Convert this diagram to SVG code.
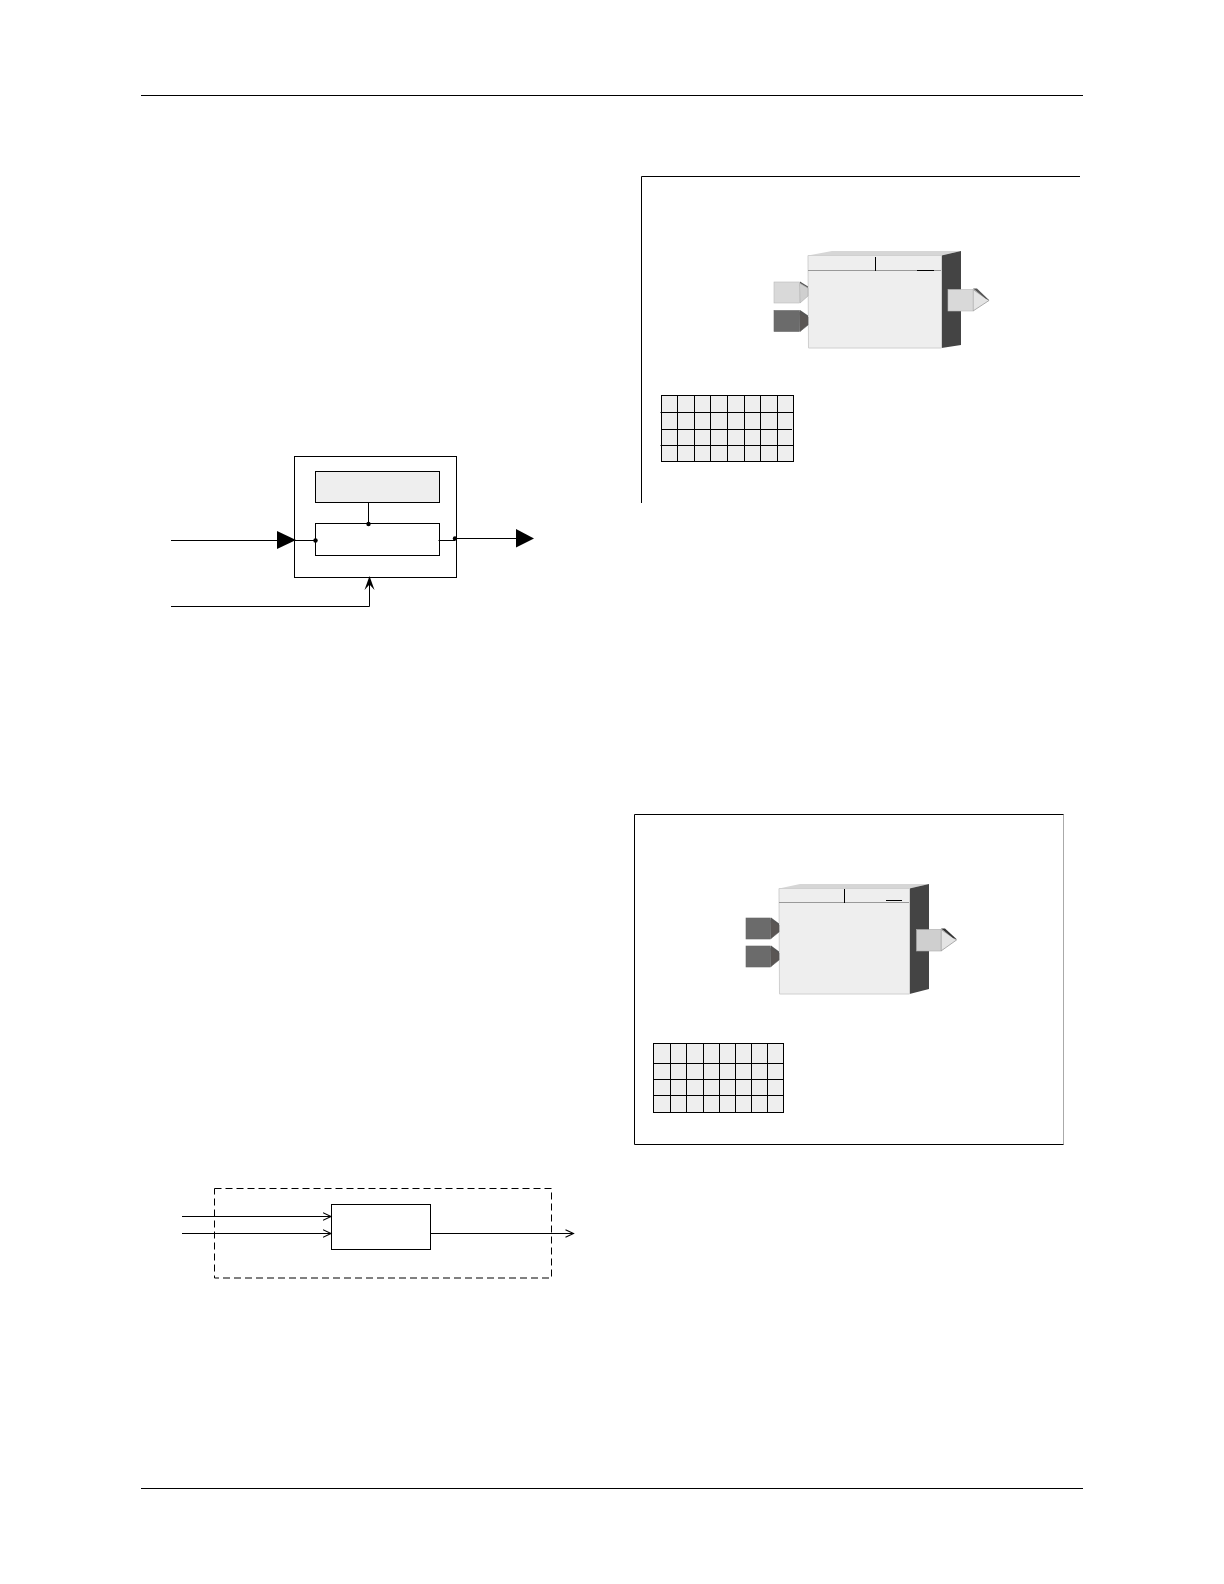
<svg xmlns="http://www.w3.org/2000/svg" width="1224" height="1584" viewBox="0 0 1224 1584">
<style>
.l{fill:none;stroke:#000;stroke-width:1}
.b{fill:#fff;stroke:#000;stroke-width:1}
.g{fill:#eee;stroke:#000;stroke-width:1}
.front{fill:#eee;stroke:#d0d0d0;stroke-width:1}
.top{fill:#d6d6d6}
.side{fill:#444}
.lt{fill:#d9d9d9;stroke:#bbb;stroke-width:.6}
.lt2{fill:#cfcfcf;stroke:#aaa;stroke-width:.6}
.tip{fill:#e4e4e4;stroke:#999;stroke-width:.8}
.dk{fill:#6b6b6b;stroke:#666;stroke-width:.6}
.dk2{fill:#5a5654;stroke:#555;stroke-width:.6}
.e{fill:#555}
.f{fill:#000}
</style>
<defs>
<marker id="open" markerWidth="10" markerHeight="10" refX="9" refY="5" orient="auto" markerUnits="userSpaceOnUse"><path d="M0.5 1.2L8.5 5L0.5 8.8" fill="none" stroke="#000" stroke-width="1.1"/></marker>
</defs>
<rect width="1224" height="1584" fill="#fff"/>
<g id="page-rules">
<path class="l" d="M141 95.5H1083M141 1488.5H1083"/>
</g>

<g id="frame-top"><path class="l" d="M1080 176.5H641.5V503"/></g>
<g id="block-top">
<polygon class="top" points="808,255.5 832,251 961,251 941,255.5"/>
<polygon class="side" points="941.5,255.5 961,251 961,345 941.5,348"/>
<polygon class="front" points="808,255.5 941.5,255.5 941.5,348 808.5,348"/>
<path d="M808 270.5H941" fill="none" stroke="#999"/>
<path class="l" d="M875.5 257V271M917 270.5H934"/>
<g id="block-top-in1">
<polygon class="e" points="800,281.5 808,286.5 808,292 799.5,286"/>
<polygon class="lt2" points="799.5,283 808,288 808,296 800,303"/>
<rect class="lt" x="774" y="282" width="25.5" height="21"/>
</g>
<g id="block-top-in2">
<polygon class="e" points="800,310 808,315.5 808,320 799.5,315"/>
<polygon class="dk2" points="799.5,312 808,317 808,325 800,331.5"/>
<rect class="dk" x="774" y="310.5" width="25.5" height="21"/>
</g>
<g id="block-top-out">
<polygon class="tip" points="973,289.5 989,300.5 973,311"/>
<polygon class="e" points="973,288.5 977,288.5 989.5,300.5 985.5,298.5"/>
<rect class="lt" x="948" y="289.5" width="25" height="21.5"/>
</g>
</g>
<g id="table-top">
<rect class="g" x="661.5" y="395.5" width="132" height="66"/>
<path class="l" d="M677.5 395.5V461.5M694.5 395.5V461.5M710.5 395.5V461.5M727.5 395.5V461.5M744.5 395.5V461.5M760.5 395.5V461.5M777.5 395.5V461.5M660.5 412.5H793.5M661.5 429.5H792M660.5 445.5H793.5"/>
</g>

<g id="frame-bottom">
<path d="M1063.5 814.5V1144.5" fill="none" stroke="#aaa"/>
<path class="l" d="M1063.5 814.5H634.5V1144.5H1063.5"/>
</g>
<g id="block-bottom">
<polygon class="top" points="779,888.5 800,884 929,884 909.5,888.5"/>
<polygon class="side" points="909.5,888.5 929,884 929,989 909.5,994"/>
<polygon class="front" points="779,888.5 909.5,888.5 909.5,994 779.5,994"/>
<path d="M779 902.5H909" fill="none" stroke="#999"/>
<path class="l" d="M844.5 889V903M886 900.5H902"/>
<g id="block-bottom-in1">
<polygon class="e" points="771,917.5 779,923.5 779,928 770.5,923"/>
<polygon class="dk2" points="770.5,920 779,925 779,932 771,938.5"/>
<rect class="dk" x="746" y="918" width="24.5" height="21"/>
</g>
<g id="block-bottom-in2">
<polygon class="e" points="771,945.5 779,951.5 779,956 770.5,951"/>
<polygon class="dk2" points="770.5,948 779,953 779,960 771,966.5"/>
<rect class="dk" x="746" y="946" width="24.5" height="21"/>
</g>
<g id="block-bottom-out">
<polygon class="tip" points="941,929.5 956.5,940 941,951"/>
<polygon fill="#333" points="941,928.5 945,928.5 957,939.5 953,938"/>
<rect class="lt2" x="916.5" y="929.5" width="24.5" height="21.5"/>
</g>
</g>
<g id="table-bottom">
<rect class="g" x="653.5" y="1043.5" width="130" height="69"/>
<path class="l" d="M670.5 1043.5V1112.5M686.5 1043.5V1112.5M703.5 1043.5V1112.5M719.5 1043.5V1112.5M735.5 1043.5V1112.5M751.5 1043.5V1112.5M767.5 1043.5V1112.5M653.5 1063.5H783.5M653.5 1079.5H783.5M653.5 1095.5H783.5"/>
</g>

<g id="node-outer"><rect class="b" x="294.5" y="456.5" width="162" height="121"/></g>
<g id="node-upper"><rect class="g" x="315.5" y="471.5" width="124" height="31"/></g>
<g id="node-lower"><rect class="b" x="315.5" y="523.5" width="124" height="32"/></g>
<g id="node-inner"><rect class="b" x="331.5" y="1204.5" width="99" height="45"/></g>
<g id="node-dashed"><rect x="214.5" y="1188.5" width="337" height="89.5" fill="none" stroke="#000" stroke-dasharray="7 4"/></g>

<g id="connectors">
<path class="l" d="M171 540.5H315.5M368.5 502V524M438.5 540.5H455M455 538.5H517M171 606.5H369.5V577"/>
<polygon class="f" points="277,531 296,540 277,549"/>
<polygon class="f" points="516,529 534,538.5 516,547.5"/>
<circle class="f" cx="315.5" cy="540.5" r="2.2"/>
<circle class="f" cx="368.5" cy="524" r="2.2"/>
<circle class="f" cx="455" cy="538.5" r="2.2"/>
<path class="f" d="M369.5 576L374.5 590L369.5 584.5L364.5 590Z"/>
<path class="l" marker-end="url(#open)" d="M182 1216.5H331.5"/>
<path class="l" marker-end="url(#open)" d="M182 1233.5H331.5"/>
<path class="l" marker-end="url(#open)" d="M430.5 1233.5H574"/>
</g>
</svg>
